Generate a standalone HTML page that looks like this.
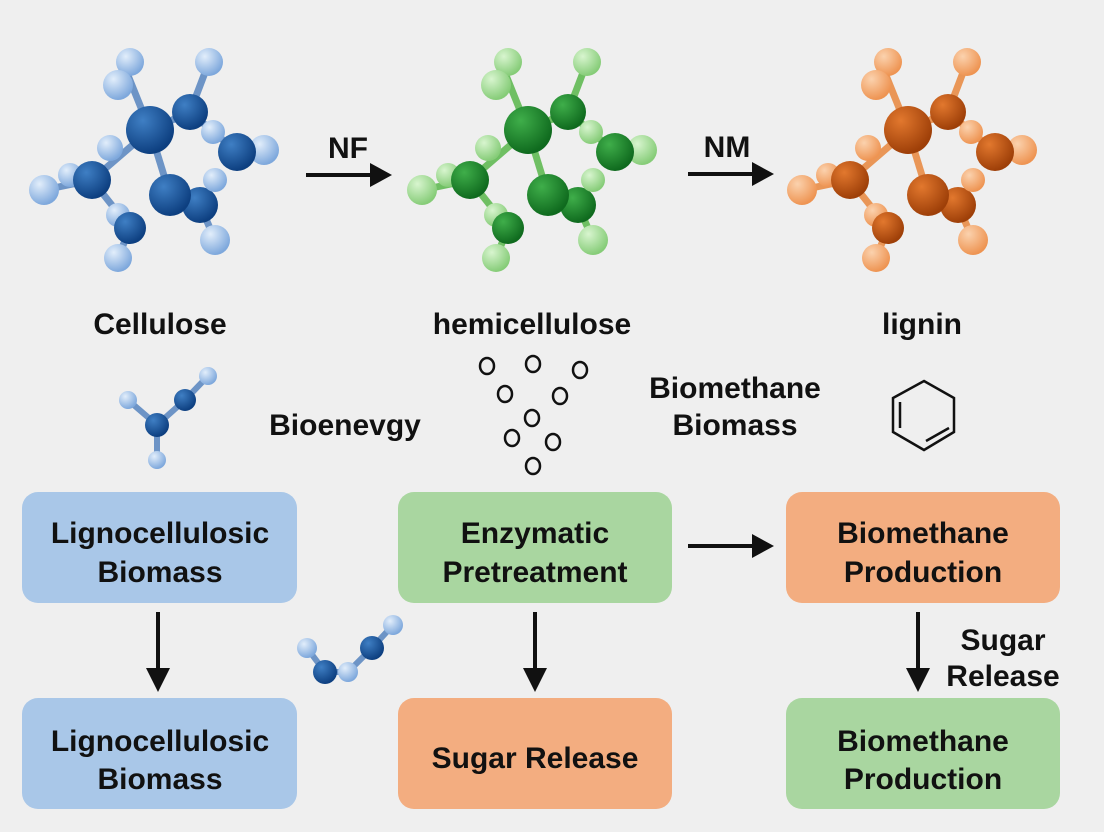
<!DOCTYPE html>
<html><head><style>
body{margin:0;background:#efefef;}
svg{display:block;font-family:"Liberation Sans",sans-serif;font-weight:bold;}
</style></head><body>
<svg width="1104" height="832" viewBox="0 0 1104 832">
<defs>
<radialGradient id="bd" cx="35%" cy="30%" r="70%"><stop offset="0" stop-color="#3f7fc4"/><stop offset="1" stop-color="#0d3f80"/></radialGradient>
<radialGradient id="bl" cx="35%" cy="30%" r="70%"><stop offset="0" stop-color="#e2eefb"/><stop offset="1" stop-color="#7ea8dc"/></radialGradient>
<radialGradient id="gd" cx="35%" cy="30%" r="70%"><stop offset="0" stop-color="#3fae4a"/><stop offset="1" stop-color="#0f6a1e"/></radialGradient>
<radialGradient id="gl" cx="35%" cy="30%" r="70%"><stop offset="0" stop-color="#d8f5cf"/><stop offset="1" stop-color="#86cc78"/></radialGradient>
<radialGradient id="od" cx="35%" cy="30%" r="70%"><stop offset="0" stop-color="#e2782e"/><stop offset="1" stop-color="#9e3f08"/></radialGradient>
<radialGradient id="ol" cx="35%" cy="30%" r="70%"><stop offset="0" stop-color="#fbd2ae"/><stop offset="1" stop-color="#ee9452"/></radialGradient>
</defs>

<g>
<g stroke="#6d94c6" stroke-width="7">
<line x1="150" y1="130" x2="125" y2="68"/><line x1="150" y1="130" x2="190" y2="112"/><line x1="190" y1="112" x2="209" y2="62"/>
<line x1="190" y1="112" x2="237" y2="152"/><line x1="237" y1="152" x2="264" y2="150"/><line x1="150" y1="130" x2="170" y2="195"/>
<line x1="150" y1="130" x2="92" y2="180"/><line x1="92" y1="180" x2="44" y2="190"/><line x1="92" y1="180" x2="130" y2="228"/>
<line x1="130" y1="228" x2="118" y2="258"/><line x1="170" y1="195" x2="200" y2="205"/><line x1="200" y1="205" x2="215" y2="240"/>
</g>
<g fill="url(#bl)"><circle cx="130" cy="62" r="14"/><circle cx="118" cy="85" r="15"/><circle cx="209" cy="62" r="14"/><circle cx="264" cy="150" r="15"/><circle cx="44" cy="190" r="15"/><circle cx="70" cy="175" r="12"/><circle cx="118" cy="215" r="12"/><circle cx="118" cy="258" r="14"/><circle cx="215" cy="240" r="15"/></g>
<g fill="url(#bd)"><circle cx="190" cy="112" r="18"/><circle cx="237" cy="152" r="19"/><circle cx="92" cy="180" r="19"/><circle cx="130" cy="228" r="16"/><circle cx="150" cy="130" r="24"/><circle cx="200" cy="205" r="18"/><circle cx="170" cy="195" r="21"/></g>
<g fill="url(#bl)"><circle cx="213" cy="132" r="12"/><circle cx="215" cy="180" r="12"/><circle cx="110" cy="148" r="13"/></g>
</g>
<g transform="translate(378,0)">
<g stroke="#6fbf63" stroke-width="7">
<line x1="150" y1="130" x2="125" y2="68"/><line x1="150" y1="130" x2="190" y2="112"/><line x1="190" y1="112" x2="209" y2="62"/>
<line x1="190" y1="112" x2="237" y2="152"/><line x1="237" y1="152" x2="264" y2="150"/><line x1="150" y1="130" x2="170" y2="195"/>
<line x1="150" y1="130" x2="92" y2="180"/><line x1="92" y1="180" x2="44" y2="190"/><line x1="92" y1="180" x2="130" y2="228"/>
<line x1="130" y1="228" x2="118" y2="258"/><line x1="170" y1="195" x2="200" y2="205"/><line x1="200" y1="205" x2="215" y2="240"/>
</g>
<g fill="url(#gl)"><circle cx="130" cy="62" r="14"/><circle cx="118" cy="85" r="15"/><circle cx="209" cy="62" r="14"/><circle cx="264" cy="150" r="15"/><circle cx="44" cy="190" r="15"/><circle cx="70" cy="175" r="12"/><circle cx="118" cy="215" r="12"/><circle cx="118" cy="258" r="14"/><circle cx="215" cy="240" r="15"/></g>
<g fill="url(#gd)"><circle cx="190" cy="112" r="18"/><circle cx="237" cy="152" r="19"/><circle cx="92" cy="180" r="19"/><circle cx="130" cy="228" r="16"/><circle cx="150" cy="130" r="24"/><circle cx="200" cy="205" r="18"/><circle cx="170" cy="195" r="21"/></g>
<g fill="url(#gl)"><circle cx="213" cy="132" r="12"/><circle cx="215" cy="180" r="12"/><circle cx="110" cy="148" r="13"/></g>
</g>
<g transform="translate(758,0)">
<g stroke="#e99657" stroke-width="7">
<line x1="150" y1="130" x2="125" y2="68"/><line x1="150" y1="130" x2="190" y2="112"/><line x1="190" y1="112" x2="209" y2="62"/>
<line x1="190" y1="112" x2="237" y2="152"/><line x1="237" y1="152" x2="264" y2="150"/><line x1="150" y1="130" x2="170" y2="195"/>
<line x1="150" y1="130" x2="92" y2="180"/><line x1="92" y1="180" x2="44" y2="190"/><line x1="92" y1="180" x2="130" y2="228"/>
<line x1="130" y1="228" x2="118" y2="258"/><line x1="170" y1="195" x2="200" y2="205"/><line x1="200" y1="205" x2="215" y2="240"/>
</g>
<g fill="url(#ol)"><circle cx="130" cy="62" r="14"/><circle cx="118" cy="85" r="15"/><circle cx="209" cy="62" r="14"/><circle cx="264" cy="150" r="15"/><circle cx="44" cy="190" r="15"/><circle cx="70" cy="175" r="12"/><circle cx="118" cy="215" r="12"/><circle cx="118" cy="258" r="14"/><circle cx="215" cy="240" r="15"/></g>
<g fill="url(#od)"><circle cx="190" cy="112" r="18"/><circle cx="237" cy="152" r="19"/><circle cx="92" cy="180" r="19"/><circle cx="130" cy="228" r="16"/><circle cx="150" cy="130" r="24"/><circle cx="200" cy="205" r="18"/><circle cx="170" cy="195" r="21"/></g>
<g fill="url(#ol)"><circle cx="213" cy="132" r="12"/><circle cx="215" cy="180" r="12"/><circle cx="110" cy="148" r="13"/></g>
</g>

<g stroke="#111" stroke-width="4"><line x1="306" y1="175" x2="372" y2="175"/><line x1="688" y1="174" x2="754" y2="174"/><line x1="688" y1="546" x2="754" y2="546"/>
<line x1="158" y1="612" x2="158" y2="672"/><line x1="535" y1="612" x2="535" y2="672"/><line x1="918" y1="612" x2="918" y2="672"/></g>
<g fill="#111">
<polygon points="370,163 392,175 370,187"/><polygon points="752,162 774,174 752,186"/><polygon points="752,534 774,546 752,558"/>
<polygon points="146,668 170,668 158,692"/><polygon points="523,668 547,668 535,692"/><polygon points="906,668 930,668 918,692"/>
</g>

<g font-size="30" fill="#111" text-anchor="middle">
<text x="348" y="158">NF</text><text x="727" y="157">NM</text>
<text x="160" y="334">Cellulose</text><text x="532" y="334">hemicellulose</text><text x="922" y="334">lignin</text>
<text x="345" y="435">Bioenevgy</text>
<text x="735" y="398">Biomethane</text><text x="735" y="435">Biomass</text>
<text x="1003" y="650">Sugar</text><text x="1003" y="686">Release</text>
</g>

<g stroke="#6d94c6" stroke-width="6"><line x1="157" y1="425" x2="185" y2="400"/><line x1="185" y1="400" x2="208" y2="376"/><line x1="157" y1="425" x2="128" y2="400"/><line x1="157" y1="425" x2="157" y2="460"/>
<line x1="325" y1="672" x2="348" y2="672"/><line x1="348" y1="672" x2="372" y2="648"/><line x1="372" y1="648" x2="393" y2="625"/><line x1="325" y1="672" x2="307" y2="648"/></g>
<g fill="url(#bl)"><circle cx="208" cy="376" r="9"/><circle cx="128" cy="400" r="9"/><circle cx="157" cy="460" r="9"/><circle cx="348" cy="672" r="10"/><circle cx="393" cy="625" r="10"/><circle cx="307" cy="648" r="10"/></g>
<g fill="url(#bd)"><circle cx="157" cy="425" r="12"/><circle cx="185" cy="400" r="11"/><circle cx="325" cy="672" r="12"/><circle cx="372" cy="648" r="12"/></g>

<g fill="none" stroke="#111" stroke-width="2.5">
<ellipse cx="487" cy="366" rx="7" ry="8"/><ellipse cx="533" cy="364" rx="7" ry="8"/><ellipse cx="580" cy="370" rx="7" ry="8"/><ellipse cx="505" cy="394" rx="7" ry="8"/><ellipse cx="560" cy="396" rx="7" ry="8"/><ellipse cx="532" cy="418" rx="7" ry="8"/><ellipse cx="512" cy="438" rx="7" ry="8"/><ellipse cx="553" cy="442" rx="7" ry="8"/><ellipse cx="533" cy="466" rx="7" ry="8"/>
<polygon points="924,381 954,398 954,432 924,450 893,432 893,398"/>
<line x1="900" y1="402" x2="900" y2="428"/><line x1="926" y1="441" x2="949" y2="428"/>
</g>

<rect x="22" y="492" width="275" height="111" rx="16" fill="#a9c7e8"/>
<rect x="398" y="492" width="274" height="111" rx="16" fill="#a9d6a0"/>
<rect x="786" y="492" width="274" height="111" rx="16" fill="#f3ad80"/>
<rect x="22" y="698" width="275" height="111" rx="16" fill="#a9c7e8"/>
<rect x="398" y="698" width="274" height="111" rx="16" fill="#f3ad80"/>
<rect x="786" y="698" width="274" height="111" rx="16" fill="#a9d6a0"/>
<g font-size="30" fill="#111" text-anchor="middle">
<text x="160" y="543">Lignocellulosic</text><text x="160" y="582">Biomass</text>
<text x="535" y="543">Enzymatic</text><text x="535" y="582">Pretreatment</text>
<text x="923" y="543">Biomethane</text><text x="923" y="582">Production</text>
<text x="160" y="751">Lignocellulosic</text><text x="160" y="789">Biomass</text>
<text x="535" y="768">Sugar Release</text>
<text x="923" y="751">Biomethane</text><text x="923" y="789">Production</text>
</g>
</svg>
</body></html>
